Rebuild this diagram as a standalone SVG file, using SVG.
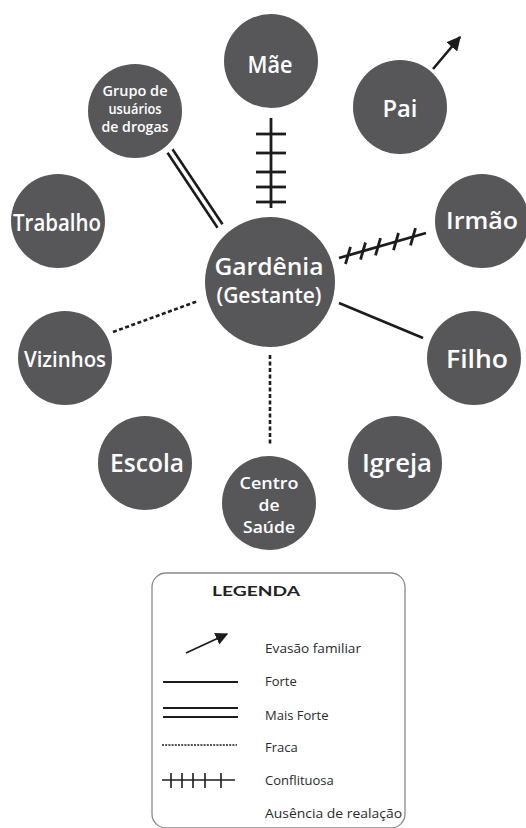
<svg xmlns="http://www.w3.org/2000/svg" width="526" height="828" viewBox="0 0 526 828">
<style>
.n circle{fill:#57575a}
.n text{fill:#ffffff;font-family:"Open Sans","Noto Sans","DejaVu Sans",sans-serif;font-weight:600;text-anchor:middle}
.ln{stroke:#1c1c1c;stroke-width:2.6;fill:none}
.cf{stroke:#1c1c1c;stroke-width:2.8;fill:none}
.dash{stroke:#1c1c1c;stroke-width:2.6;fill:none;stroke-dasharray:4 2.5}
.lg{fill:#2a2a2a;font-family:"Open Sans","Noto Sans","DejaVu Sans",sans-serif;font-size:13px}
</style>
<defs>
<marker id="arr" viewBox="0 0 10 10" refX="9" refY="5" markerWidth="5.5" markerHeight="5.5" markerUnits="strokeWidth" orient="auto">
<path d="M0,0 L10,5 L0,10 z" fill="#1c1c1c"/>
</marker>
<marker id="arrS" viewBox="0 0 10 10" refX="9" refY="5" markerWidth="7" markerHeight="7" markerUnits="strokeWidth" orient="auto">
<path d="M0,0 L10,5 L0,10 z" fill="#1c1c1c"/>
</marker>
</defs>
<rect width="526" height="828" fill="#ffffff"/>
<g id="connectors">
<g id="c-mae">
<line class="cf" x1="271" y1="118" x2="271" y2="208"/>
<line class="cf" x1="256" y1="134" x2="286" y2="134"/>
<line class="cf" x1="256" y1="153" x2="286" y2="153"/>
<line class="cf" x1="256" y1="172" x2="286" y2="172"/>
<line class="cf" x1="256" y1="187" x2="286" y2="187"/>
<line class="cf" x1="256" y1="202" x2="286" y2="202"/>
</g>
<g id="c-grupo">
<line class="ln" x1="167.5" y1="152.7" x2="217.5" y2="227.7"/>
<line class="ln" x1="172.5" y1="149.3" x2="222.5" y2="224.3"/>
</g>
<g id="c-irmao">
<line class="cf" x1="339" y1="258" x2="426" y2="233"/>
<line class="cf" x1="345.5" y1="264" x2="350.5" y2="246.8"/>
<line class="cf" x1="360.5" y1="259.7" x2="365.5" y2="242.5"/>
<line class="cf" x1="375.5" y1="255.4" x2="380.5" y2="238.2"/>
<line class="cf" x1="393.5" y1="250.2" x2="398.5" y2="233"/>
<line class="cf" x1="410.5" y1="245.3" x2="415.5" y2="228.1"/>
</g>
<line id="c-pai" class="ln" x1="433" y1="69" x2="460" y2="37" marker-end="url(#arr)"/>
<line id="c-vizinhos" class="dash" x1="113" y1="332" x2="198" y2="301"/>
<line id="c-filho" class="ln" x1="339" y1="303" x2="423" y2="338"/>
<line id="c-centro" class="dash" x1="270" y1="355" x2="270" y2="446"/>
</g>
<g id="node-mae" class="n"><circle cx="271" cy="61" r="47"/><text x="270" y="73" font-size="24" textLength="45" lengthAdjust="spacingAndGlyphs">Mãe</text></g>
<g id="node-pai" class="n"><circle cx="400" cy="107" r="47"/><text x="400" y="117" font-size="24" textLength="35" lengthAdjust="spacingAndGlyphs">Pai</text></g>
<g id="node-grupo" class="n"><circle cx="135" cy="111" r="47"/>
<text x="135" y="96" font-size="14" textLength="65" lengthAdjust="spacingAndGlyphs">Grupo de</text>
<text x="135" y="114" font-size="14" textLength="53" lengthAdjust="spacingAndGlyphs">usuários</text>
<text x="135" y="132" font-size="14" textLength="67" lengthAdjust="spacingAndGlyphs">de drogas</text></g>
<g id="node-trabalho" class="n"><circle cx="58" cy="221" r="47"/><text x="57" y="231" font-size="24" textLength="88" lengthAdjust="spacingAndGlyphs">Trabalho</text></g>
<g id="node-irmao" class="n"><circle cx="482" cy="221" r="47"/><text x="482" y="229" font-size="24" textLength="72" lengthAdjust="spacingAndGlyphs">Irmão</text></g>
<g id="node-gardenia" class="n"><circle cx="270" cy="282" r="65"/>
<text x="269" y="275" font-size="24" textLength="109" lengthAdjust="spacingAndGlyphs">Gardênia</text>
<text x="269" y="303" font-size="22" textLength="105" lengthAdjust="spacingAndGlyphs">(Gestante)</text></g>
<g id="node-vizinhos" class="n"><circle cx="65" cy="358" r="47"/><text x="65" y="367" font-size="21" textLength="82" lengthAdjust="spacingAndGlyphs">Vizinhos</text></g>
<g id="node-filho" class="n"><circle cx="474" cy="358" r="47"/><text x="477" y="368" font-size="25" textLength="62" lengthAdjust="spacingAndGlyphs">Filho</text></g>
<g id="node-escola" class="n"><circle cx="145" cy="463" r="47"/><text x="147" y="472" font-size="25" textLength="74" lengthAdjust="spacingAndGlyphs">Escola</text></g>
<g id="node-igreja" class="n"><circle cx="395" cy="463" r="47"/><text x="397" y="472" font-size="25" textLength="70" lengthAdjust="spacingAndGlyphs">Igreja</text></g>
<g id="node-centro" class="n"><circle cx="269" cy="503" r="47"/>
<text x="269" y="489" font-size="17" textLength="59" lengthAdjust="spacingAndGlyphs">Centro</text>
<text x="269" y="511" font-size="17" textLength="21" lengthAdjust="spacingAndGlyphs">de</text>
<text x="269" y="533" font-size="17" textLength="52" lengthAdjust="spacingAndGlyphs">Saúde</text></g>
<g id="legend">
<rect x="152" y="573" width="253" height="255" rx="14" fill="none" stroke="#8a8a8a" stroke-width="1.3"/>
<text x="256" y="596" font-family="Lato,'DejaVu Sans',sans-serif" font-weight="700" font-size="13" fill="#222" text-anchor="middle" textLength="88" lengthAdjust="spacingAndGlyphs">LEGENDA</text>
<line x1="186" y1="653" x2="227" y2="634" stroke="#1c1c1c" stroke-width="1.8" marker-end="url(#arrS)"/>
<text class="lg" x="265" y="653" textLength="96" lengthAdjust="spacingAndGlyphs">Evasão familiar</text>
<line x1="163" y1="682" x2="238" y2="682" stroke="#1c1c1c" stroke-width="2"/>
<text class="lg" x="265" y="686">Forte</text>
<line x1="163" y1="708" x2="238" y2="708" stroke="#1c1c1c" stroke-width="2"/>
<line x1="163" y1="717" x2="238" y2="717" stroke="#1c1c1c" stroke-width="2"/>
<text class="lg" x="265" y="720">Mais Forte</text>
<line x1="162" y1="745" x2="237" y2="745" stroke="#1c1c1c" stroke-width="1.3" stroke-dasharray="2 1.2"/>
<text class="lg" x="265" y="752">Fraca</text>
<g stroke="#1c1c1c" stroke-width="1.6">
<line x1="162" y1="780" x2="235" y2="780"/>
<line x1="171" y1="773" x2="171" y2="788"/>
<line x1="182" y1="773" x2="182" y2="788"/>
<line x1="193" y1="773" x2="193" y2="788"/>
<line x1="205" y1="773" x2="205" y2="788"/>
<line x1="221" y1="773" x2="221" y2="788"/>
</g>
<text class="lg" x="265" y="785">Conflituosa</text>
<text class="lg" x="265" y="818" textLength="137" lengthAdjust="spacingAndGlyphs">Ausência de realação</text>
</g>
</svg>
